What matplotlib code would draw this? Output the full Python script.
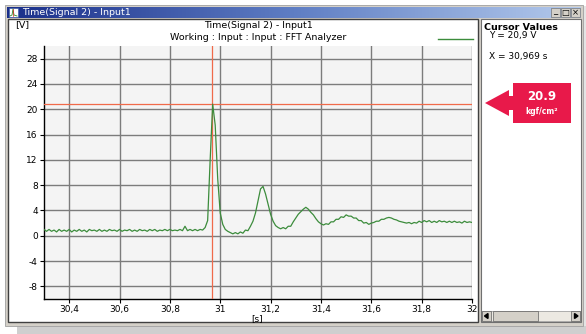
import numpy as np
import matplotlib
matplotlib.use("Agg")
import matplotlib.pyplot as plt
from matplotlib.patches import Rectangle, Polygon
from matplotlib.colors import LinearSegmentedColormap

plt.rcParams['font.family'] = ['Liberation Sans Narrow', 'DejaVu Sans']

# ---------------- data ----------------
t_start = 30.30
t_step = 0.01
voltage = [
    # 30.30 - 30.39
    1.0, 0.7, 1.0, 0.7, 0.9, 0.6, 1.0, 0.7, 0.9, 0.7,
    # 30.40 - 30.49
    1.0, 0.6, 0.9, 0.7, 1.0, 0.7, 0.9, 0.6, 1.0, 0.8,
    # 30.50 - 30.59
    0.9, 0.7, 1.0, 0.7, 0.9, 0.7, 1.0, 0.8, 0.9, 0.7,
    # 30.60 - 30.69
    1.0, 0.7, 0.9, 0.8, 1.0, 0.7, 0.9, 0.7, 1.0, 0.8,
    # 30.70 - 30.79
    0.9, 0.7, 1.0, 0.8, 1.0, 0.7, 0.9, 0.8, 1.0, 0.8,
    # 30.80 - 30.89
    1.0, 0.8, 0.9, 0.8, 1.0, 0.8, 1.5, 0.8, 1.0, 0.8,
    # 30.90 - 30.99
    1.0, 0.8, 1.0, 0.9, 1.3, 2.4, 12.0, 20.8, 17.5, 9.0,
    # 31.00 - 31.09
    3.6, 1.8, 1.0, 0.7, 0.5, 0.3, 0.5, 0.3, 0.6, 0.4,
    # 31.10 - 31.19
    0.9, 0.8, 1.5, 2.3, 3.6, 5.5, 7.4, 7.8, 6.6, 5.0,
    # 31.20 - 31.29
    3.4, 2.3, 1.6, 1.3, 1.1, 1.3, 1.1, 1.5, 1.5, 2.2,
    # 31.30 - 31.39
    2.8, 3.4, 3.8, 4.2, 4.5, 4.2, 3.7, 3.3, 2.7, 2.2,
    # 31.40 - 31.49
    1.9, 1.7, 1.9, 1.8, 2.2, 2.2, 2.6, 2.6, 3.0, 2.9,
    # 31.50 - 31.59
    3.3, 3.1, 3.1, 2.8, 2.8, 2.4, 2.4, 2.0, 2.1, 1.8,
    # 31.60 - 31.69
    2.0, 2.1, 2.3, 2.3, 2.6, 2.6, 2.8, 2.9, 2.8, 2.6,
    # 31.70 - 31.79
    2.5, 2.3, 2.2, 2.1, 2.0, 2.1, 1.9, 2.1, 2.0, 2.3,
    # 31.80 - 31.89
    2.1, 2.4, 2.2, 2.4, 2.1, 2.3, 2.1, 2.4, 2.2, 2.3,
    # 31.90 - 32.00
    2.1, 2.3, 2.1, 2.3, 2.1, 2.2, 2.0, 2.3, 2.1, 2.2, 2.1,
]
time = t_start + t_step * np.arange(len(voltage))

cursor_x = 30.969
cursor_y = 20.9

x_ticks = [30.4, 30.6, 30.8, 31.0, 31.2, 31.4, 31.6, 31.8, 32.0]
x_tick_labels = ["30,4", "30,6", "30,8", "31", "31,2", "31,4", "31,6", "31,8", "32"]
y_ticks = [-8, -4, 0, 4, 8, 12, 16, 20, 24, 28]
y_tick_labels = ["-8", "-4", "0", "4", "8", "12", "16", "20", "24", "28"]

# ---------------- figure ----------------
W, H = 586, 334
fig = plt.figure(figsize=(W / 100, H / 100), dpi=100)
fig.patch.set_facecolor("white")

bg = fig.add_axes([0, 0, 1, 1], zorder=0)
bg.set_xlim(0, W)
bg.set_ylim(H, 0)
bg.axis("off")

frame_gray = "#d4d0c8"
# shadow
bg.add_patch(Rectangle((17, 325), W - 17, 9, color="#cfcfcf", lw=0))
bg.add_patch(Rectangle((582, 6), 4, 320, color="#e4e4e4", lw=0))
# window body
bg.add_patch(Rectangle((5, 5), 578, 321, facecolor=frame_gray, edgecolor="#a0a0a0", lw=0.6))
# title bar gradient
grad = np.linspace(0, 1, 256).reshape(1, -1)
cmap_tb = LinearSegmentedColormap.from_list("tb", ["#1a2f8a", "#5f7ec4", "#b4caec"])
bg.imshow(grad, cmap=cmap_tb, aspect="auto", extent=[7, 581, 18, 7], zorder=1)
bg.text(22, 12.8, "Time(Signal 2) - Input1", color="white", fontsize=6.8,
        va="center", ha="left", zorder=3)
# title icon
bg.add_patch(Rectangle((9, 8), 9, 9, facecolor="white", edgecolor="#3050a0", lw=0.4, zorder=2))
bg.plot([10, 12, 13, 14, 17], [16, 15, 9, 15, 16], color="#2a8a2a", lw=0.6, zorder=3)
bg.plot([12.5, 12.5], [9, 16], color="#e03020", lw=0.5, zorder=3)
# window buttons
for i, sym in enumerate(["_", "\u25a1", "\u00d7"]):
    x0 = 551 + i * 10
    bg.add_patch(Rectangle((x0, 8), 9, 9, facecolor=frame_gray, edgecolor="#606060", lw=0.4, zorder=2))
    bg.text(x0 + 4.5, 12.5 if i else 11.0, sym, fontsize=6, ha="center", va="center",
            color="black", zorder=3, family="DejaVu Sans")

# chart panel
bg.add_patch(Rectangle((8, 19), 470, 303, facecolor="white", edgecolor="#404040", lw=1.0, zorder=2))
# right panel
bg.add_patch(Rectangle((481, 19), 100, 303, facecolor="white", edgecolor="#707070", lw=0.8, zorder=2))
bg.text(484, 27, "Cursor Values", fontsize=6.8, fontweight="bold", va="center", ha="left", zorder=3)
bg.text(489, 35.5, "Y = 20,9 V", fontsize=6.5, va="center", ha="left", zorder=3)
bg.text(489, 56.5, "X = 30,969 s", fontsize=6.5, va="center", ha="left", zorder=3)
# scrollbar
bg.add_patch(Rectangle((482, 311), 98, 10, facecolor="#ece9e2", edgecolor="#909090", lw=0.5, zorder=3))
bg.add_patch(Rectangle((482, 311), 9, 10, facecolor=frame_gray, edgecolor="#606060", lw=0.5, zorder=4))
bg.add_patch(Rectangle((571, 311), 9, 10, facecolor=frame_gray, edgecolor="#606060", lw=0.5, zorder=4))
bg.add_patch(Rectangle((493, 311), 45, 10, facecolor=frame_gray, edgecolor="#606060", lw=0.5, zorder=4))
bg.add_patch(Polygon([[484.5, 316], [488, 313.5], [488, 318.5]], closed=True, color="black", zorder=5))
bg.add_patch(Polygon([[578, 316], [574.5, 313.5], [574.5, 318.5]], closed=True, color="black", zorder=5))

# header texts of the chart
bg.text(15, 25, "[V]", fontsize=6.8, va="center", ha="left", zorder=3)
bg.text(258, 25, "Time(Signal 2) - Input1", fontsize=6.8, va="center", ha="center", zorder=3)
bg.text(258, 37, "Working : Input : Input : FFT Analyzer", fontsize=6.8, va="center", ha="center", zorder=3)
bg.plot([438, 473], [38.5, 38.5], color="#3c8c3c", lw=1.0, zorder=3)
bg.text(257, 318.5, "[s]", fontsize=6.5, va="center", ha="center", zorder=3)

# callout arrow
red = "#e8194a"
bg.add_patch(Polygon([[485, 103], [509, 90], [509, 96], [513, 96], [513, 83], [571, 83],
                      [571, 123], [513, 123], [513, 110], [509, 110], [509, 116]],
                     closed=True, facecolor=red, edgecolor="none", zorder=6))
bg.text(542, 96.5, "20.9", color="white", fontsize=8.5, fontweight="bold",
        ha="center", va="center", zorder=7, family="DejaVu Sans")
bg.text(542, 112, "kgf/cm\u00b2", color="white", fontsize=5.5, fontweight="bold",
        ha="center", va="center", zorder=7, family="DejaVu Sans")

# ---------------- plot axes ----------------
left, right, top, bottom = 44, 472, 46, 299
ax = fig.add_axes([left / W, (H - bottom) / H, (right - left) / W, (bottom - top) / H], zorder=5)
ax.set_facecolor("#f4f4f4")
ax.plot(time, voltage, color="#3c8c3c", lw=0.9, zorder=4)
ax.axhline(cursor_y, color="#f06a4a", lw=0.9, zorder=3)
ax.axvline(cursor_x, color="#f06a4a", lw=0.9, zorder=3)
ax.set_xlim(30.3, 32.0)
ax.set_ylim(-10, 30)
ax.set_xticks(x_ticks)
ax.set_xticklabels(x_tick_labels)
ax.set_yticks(y_ticks)
ax.set_yticklabels(y_tick_labels)
ax.grid(True, color="#7c7c7c", lw=1.0, zorder=1)
ax.set_axisbelow(True)
for s in ["top", "right"]:
    ax.spines[s].set_visible(False)
for s in ["left", "bottom"]:
    ax.spines[s].set_color("black")
    ax.spines[s].set_linewidth(1.0)
ax.tick_params(axis="both", labelsize=6.5, length=3, width=0.8, color="black", pad=1.5)

fig.savefig("out.png", dpi=100)
